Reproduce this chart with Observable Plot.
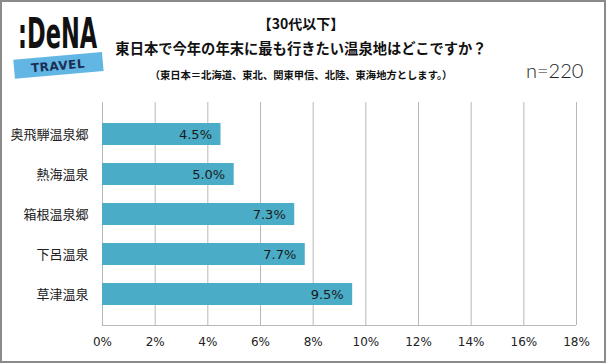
<!DOCTYPE html>
<html>
<head>
<meta charset="utf-8">
<script src="https://cdn.jsdelivr.net/npm/d3@7"></script>
<script src="https://cdn.jsdelivr.net/npm/@observablehq/plot@0.6"></script>
<style>
  html, body { margin: 0; padding: 0; background: #fff; }
  #frame { position: relative; width: 606px; height: 363px; background: #fff; overflow: hidden; }
  #border { position: absolute; left: 0; top: 0; width: 606px; height: 363px; box-sizing: border-box; border: 2px solid #8a8a8a; pointer-events: none; }
  .hd { position: absolute; left: 110px; width: 382px; text-align: center; font-family: "Noto Sans CJK JP", sans-serif; font-weight: bold; color: #111; white-space: nowrap; }
  #n { position: absolute; left: 526px; top: 58px; font-family: "Lato", "DejaVu Sans", sans-serif; font-weight: 300; font-size: 20px; line-height: 24px; color: #222; }
  #chart { position: absolute; left: 0; top: 95px; }
</style>
</head>
<body>
<div id="frame">
  <svg id="logo" width="108" height="90" style="position:absolute;left:0;top:0">
    <g transform="translate(18 48) scale(1 1.7)">
      <text x="0" y="0" font-family="'DejaVu Sans Condensed', 'DejaVu Sans'" font-stretch="condensed" font-weight="bold" font-size="25" fill="#111">:DeNA</text>
    </g>
    <g transform="rotate(-5 58 66)">
      <rect x="14" y="56" width="89" height="19" fill="#62b6e4"></rect>
      <text x="58" y="70" text-anchor="middle" font-family="DejaVu Sans" font-weight="bold" font-size="12" fill="#1b2f55" letter-spacing="0.5">TRAVEL</text>
    </g>
  </svg>
  <div class="hd" style="top:13px;font-size:14px;line-height:20px">【30代以下】</div>
  <div class="hd" style="top:38px;font-size:14.3px;line-height:20px">東日本で今年の年末に最も行きたい温泉地はどこですか？</div>
  <div class="hd" style="top:66px;font-size:10.3px;line-height:18px">（東日本＝北海道、東北、関東甲信、北陸、東海地方とします。）</div>
  <div id="n">n=220</div>
  <div id="chart"></div>
  <div id="border"></div>
</div>
<script>
const names = ["奥飛騨温泉郷", "熱海温泉", "箱根温泉郷", "下呂温泉", "草津温泉"];
const values = [4.5, 5.0, 7.3, 7.7, 9.5];
const xTicks = [0, 2, 4, 6, 8, 10, 12, 14, 16, 18];

const data = names.map((name, i) => ({name, value: values[i]}));

const chart = Plot.plot({
  width: 606,
  height: 268,
  marginTop: 7,
  marginBottom: 38,
  marginLeft: 102,
  marginRight: 30,
  style: {fontFamily: "'DejaVu Sans', 'Noto Sans CJK JP', sans-serif", background: "transparent", color: "#222"},
  x: {domain: [0, 18], ticks: xTicks, tickFormat: d => d + "%", label: null},
  y: {domain: names, padding: 0.45, label: null},
  marks: [
    Plot.gridX(xTicks, {stroke: "#b8b8b8", strokeOpacity: 1, strokeWidth: 1}),
    Plot.barX(data, {x: "value", y: "name", fill: "#4aacc6"}),
    Plot.text(data, {x: "value", y: "name", text: d => d.value.toFixed(1) + "%", textAnchor: "end", dx: -9, fill: "#1a1a1a", fontSize: 13}),
    Plot.axisX(xTicks, {tickSize: 0, tickPadding: 12, fontSize: 12, tickFormat: d => d + "%", fill: "#222", label: null}),
    Plot.axisY({tickSize: 0, tickPadding: 14, fontSize: 13, fontFamily: "'Noto Sans CJK JP', sans-serif", fill: "#222", label: null})
  ]
});

// bottom axis line drawn from the plot's own scales
const xs = chart.scale("x").range;
const ys = chart.scale("y").range;
d3.select(chart).append("line")
  .attr("x1", xs[0]).attr("x2", xs[1])
  .attr("y1", ys[1] + 0.5).attr("y2", ys[1] + 0.5)
  .attr("stroke", "#b8b8b8");

document.getElementById("chart").appendChild(chart);
</script>
</body>
</html>
